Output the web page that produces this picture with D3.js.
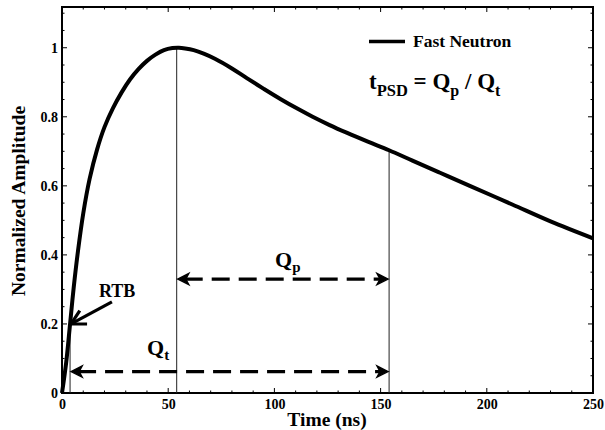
<!DOCTYPE html>
<html><head><meta charset="utf-8">
<script src="https://cdn.jsdelivr.net/npm/d3@7"></script>
<style>
html,body{margin:0;padding:0;background:#fff;}
text{font-family:"Liberation Serif","Times New Roman",serif;font-weight:bold;fill:#000;}
</style></head>
<body><svg id="c" width="605" height="430"></svg>
<script>
// Pulse shape (time in ns, normalized amplitude)
const timeNs = [0, 2, 3.8, 5.5, 7.5, 10, 13, 16.5, 20, 24, 28, 32, 36, 40, 44, 48, 52, 55, 58, 62, 67, 72, 80, 87, 95, 103, 111, 118, 126, 134, 144, 154, 165, 178, 192, 212, 230, 250];
const amplitude = [0, 0.09, 0.20, 0.305, 0.41, 0.52, 0.62, 0.705, 0.77, 0.825, 0.87, 0.908, 0.938, 0.962, 0.98, 0.993, 0.999, 1.0, 0.998, 0.993, 0.982, 0.968, 0.940, 0.912, 0.881, 0.851, 0.823, 0.800, 0.776, 0.754, 0.728, 0.703, 0.673, 0.638, 0.600, 0.546, 0.497, 0.448];
const xTicks = [0, 50, 100, 150, 200, 250];
const yTicks = [0, 0.2, 0.4, 0.6, 0.8, 1];
const yTickLabels = ["0", "0.2", "0.4", "0.6", "0.8", "1"];
// annotation positions (data units)
const tRTB = 3.8, aRTB = 0.2;
const rtbTail = [23.5, 0.264];
const tPeak = 54, aPeak = 1.0;
const tEnd = 154, aEnd = 0.703;
const qtLevel = 0.062, qpLevel = 0.33;

const svg = d3.select("#c");
const x = d3.scaleLinear().domain([0, 250]).range([62, 593]);
const y = d3.scaleLinear().domain([0, 1.118]).range([393, 7]);

// frame ticks
const xMinor = d3.range(0, 251, 10);
const yMinor = d3.range(0, 1.1001, 0.05);
const gT = svg.append("g").attr("stroke", "#000").attr("stroke-width", 1);
xMinor.forEach(v => {
  const L = (v % 50 === 0) ? 5 : 2.5;
  gT.append("line").attr("x1", x(v)).attr("x2", x(v)).attr("y1", y.range()[0]).attr("y2", y.range()[0] - L);
  gT.append("line").attr("x1", x(v)).attr("x2", x(v)).attr("y1", y.range()[1]).attr("y2", y.range()[1] + L);
});
yMinor.forEach(v => {
  const major = Math.abs(Math.round(v * 5) - v * 5) < 1e-6;
  const L = major ? 5 : 2.5;
  gT.append("line").attr("x1", x.range()[0]).attr("x2", x.range()[0] + L).attr("y1", y(v)).attr("y2", y(v));
  gT.append("line").attr("x1", x.range()[1]).attr("x2", x.range()[1] - L).attr("y1", y(v)).attr("y2", y(v));
});

// tick labels via d3 axes
const xAxis = d3.axisBottom(x).tickValues(xTicks).tickSize(0).tickPadding(6).tickFormat(d3.format("d"));
const gx = svg.append("g").attr("transform", `translate(0,${y.range()[0]})`).call(xAxis);
gx.select(".domain").remove();
gx.selectAll("text").attr("font-size", 14).attr("font-family", "Liberation Serif").attr("font-weight", "bold").attr("dy", "0.71em");
const yAxis = d3.axisLeft(y).tickValues(yTicks).tickSize(0).tickPadding(4).tickFormat((d, i) => yTickLabels[i]);
const gy = svg.append("g").attr("transform", `translate(${x.range()[0]},0)`).call(yAxis);
gy.select(".domain").remove();
gy.selectAll("text").attr("font-size", 14).attr("font-family", "Liberation Serif").attr("font-weight", "bold");

// frame box
svg.append("rect").attr("x", x.range()[0]).attr("y", y.range()[1])
  .attr("width", x.range()[1] - x.range()[0]).attr("height", y.range()[0] - y.range()[1])
  .attr("fill", "none").attr("stroke", "#000").attr("stroke-width", 2);

// vertical guide lines
[[tRTB, aRTB], [tPeak, aPeak], [tEnd, aEnd]].forEach(([t, a]) => {
  svg.append("line").attr("x1", x(t)).attr("x2", x(t)).attr("y1", y(0)).attr("y2", y(a))
    .attr("stroke", "#222").attr("stroke-width", 1);
});

// pulse curve
const line = d3.line().x((d, i) => x(timeNs[i])).y((d, i) => y(amplitude[i])).curve(d3.curveCatmullRom.alpha(0.5));
svg.append("path").datum(amplitude).attr("d", line)
  .attr("fill", "none").attr("stroke", "#000").attr("stroke-width", 4).attr("stroke-linejoin", "round");

// double dashed arrows
function dashedArrow(t0, t1, a) {
  const yy = y(a), x0 = x(t0), x1 = x(t1);
  svg.append("line").attr("x1", x0 + 8).attr("x2", x1 - 8).attr("y1", yy).attr("y2", yy)
    .attr("stroke", "#000").attr("stroke-width", 3.2).attr("stroke-dasharray", "18,9");
  const head = (xt, dir) => svg.append("path")
    .attr("d", `M${xt},${yy} L${xt + dir * 11},${yy - 5.5} L${xt + dir * 8},${yy} L${xt + dir * 11},${yy + 5.5} Z`)
    .attr("fill", "#000").attr("stroke", "#000").attr("stroke-width", 1.5).attr("stroke-linejoin", "miter");
  head(x0 + 1, 1);
  head(x1 - 1, -1);
}
dashedArrow(tPeak, tEnd, qpLevel);
dashedArrow(tRTB, tEnd, qtLevel);

// RTB arrow
{
  const tx = x(tRTB) + 1, ty = y(aRTB);
  const sx = x(rtbTail[0]), sy = y(rtbTail[1]);
  svg.append("line").attr("x1", sx).attr("y1", sy).attr("x2", tx).attr("y2", ty)
    .attr("stroke", "#000").attr("stroke-width", 3.2);
  const ang = Math.atan2(sy - ty, sx - tx);
  const L = 16, h = 0.5;
  svg.append("path")
    .attr("d", `M${tx + L * Math.cos(ang - h)},${ty + L * Math.sin(ang - h)} L${tx},${ty} L${tx + L * Math.cos(ang + h)},${ty + L * Math.sin(ang + h)}`)
    .attr("fill", "none").attr("stroke", "#000").attr("stroke-width", 3.2).attr("stroke-linejoin", "miter");
  svg.append("text").attr("x", 99).attr("y", 297).attr("font-size", 18).text("RTB");
}

// Q labels
const qp = svg.append("text").attr("x", 275).attr("y", 267).attr("font-size", 22);
qp.append("tspan").text("Q");
qp.append("tspan").attr("font-size", 15).attr("dy", 5).text("p");
const qt = svg.append("text").attr("x", 147).attr("y", 355).attr("font-size", 22);
qt.append("tspan").text("Q");
qt.append("tspan").attr("font-size", 15).attr("dy", 5).text("t");

// legend
svg.append("line").attr("x1", 369).attr("x2", 405).attr("y1", 41.5).attr("y2", 41.5)
  .attr("stroke", "#000").attr("stroke-width", 3.5);
svg.append("text").attr("x", 413).attr("y", 46.5).attr("font-size", 17.5).text("Fast Neutron");

// formula
const f = svg.append("text").attr("x", 369).attr("y", 89).attr("font-size", 23);
f.append("tspan").text("t");
f.append("tspan").attr("font-size", 16.5).attr("dy", 7).text("PSD");
f.append("tspan").attr("dy", -7).text(" = Q");
f.append("tspan").attr("font-size", 16).attr("dy", 7).text("p");
f.append("tspan").attr("dy", -7).text(" / Q");
f.append("tspan").attr("font-size", 16).attr("dy", 7).text("t");

// axis titles
svg.append("text").attr("x", 327).attr("y", 426).attr("text-anchor", "middle").attr("font-size", 19.5).text("Time (ns)");
svg.append("text").attr("transform", "translate(25,201) rotate(-90)").attr("text-anchor", "middle")
  .attr("font-size", 19.5).text("Normalized Amplitude");
</script></body></html>
